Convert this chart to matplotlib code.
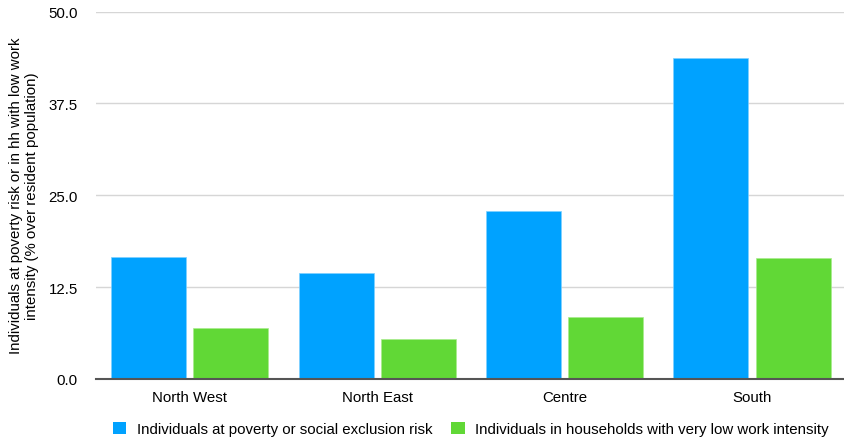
import matplotlib
matplotlib.use("Agg")
import matplotlib.pyplot as plt
import numpy as np
from matplotlib.patches import Patch

categories = ["North West", "North East", "Centre", "South"]
poverty_risk = [16.6, 14.4, 22.9, 43.7]
low_work = [6.9, 5.4, 8.5, 16.4]
yticks = [0.0, 12.5, 25.0, 37.5, 50.0]
series_names = ["Individuals at poverty or social exclusion risk",
                "Individuals in households with very low work intensity"]
ylabel = "Individuals at poverty risk or in hh with low work\nintensity (% over resident population)"

blue = "#00A2FF"
green = "#61D836"
fs = 10.8

plt.rcParams['font.family'] = ['Liberation Sans', 'DejaVu Sans']

fig = plt.figure(figsize=(8.45, 4.39), dpi=100)
ax = fig.add_axes([96/845, 1-380/439, 750/845, (380-12.5)/439])

x = np.arange(len(categories))
w = 0.4
ax.bar(x - 0.22, poverty_risk, width=w, color=blue, edgecolor="#7fd0ff", linewidth=0.5, zorder=3)
ax.bar(x + 0.22, low_work, width=w, color=green, edgecolor="#a8ec8c", linewidth=0.5, zorder=3)

ax.set_xlim(-0.5, 3.5)
ax.set_ylim(0, 50)
ax.set_yticks(yticks)
ax.set_yticklabels([f"{v:.1f}" for v in yticks], fontsize=fs)
ax.set_xticks(x)
ax.set_xticklabels(categories, fontsize=fs)
ax.tick_params(axis='both', length=0, colors='black')
ax.tick_params(axis='y', pad=13)
ax.tick_params(axis='x', pad=8)

for s in ['top', 'right', 'left']:
    ax.spines[s].set_visible(False)
ax.spines['bottom'].set_color('#555555')
ax.spines['bottom'].set_linewidth(1.5)
ax.spines['bottom'].set_zorder(4)

ax.yaxis.grid(True, color='#d6d6d6', linewidth=1.0, zorder=0)
ax.set_axisbelow(True)

fig.text(24/845, 1-196/439, ylabel, rotation=90, ha='center', va='center',
         fontsize=fs, linespacing=1.1)

handles = [Patch(facecolor=blue), Patch(facecolor=green)]
fig.legend(handles, series_names, loc='center', bbox_to_anchor=(471/845, 1-430/439),
           ncol=2, frameon=False, fontsize=fs, handlelength=0.87, handleheight=0.87,
           handletextpad=0.73, columnspacing=1.27, borderaxespad=0, borderpad=0)

fig.savefig("out.png", dpi=100)
